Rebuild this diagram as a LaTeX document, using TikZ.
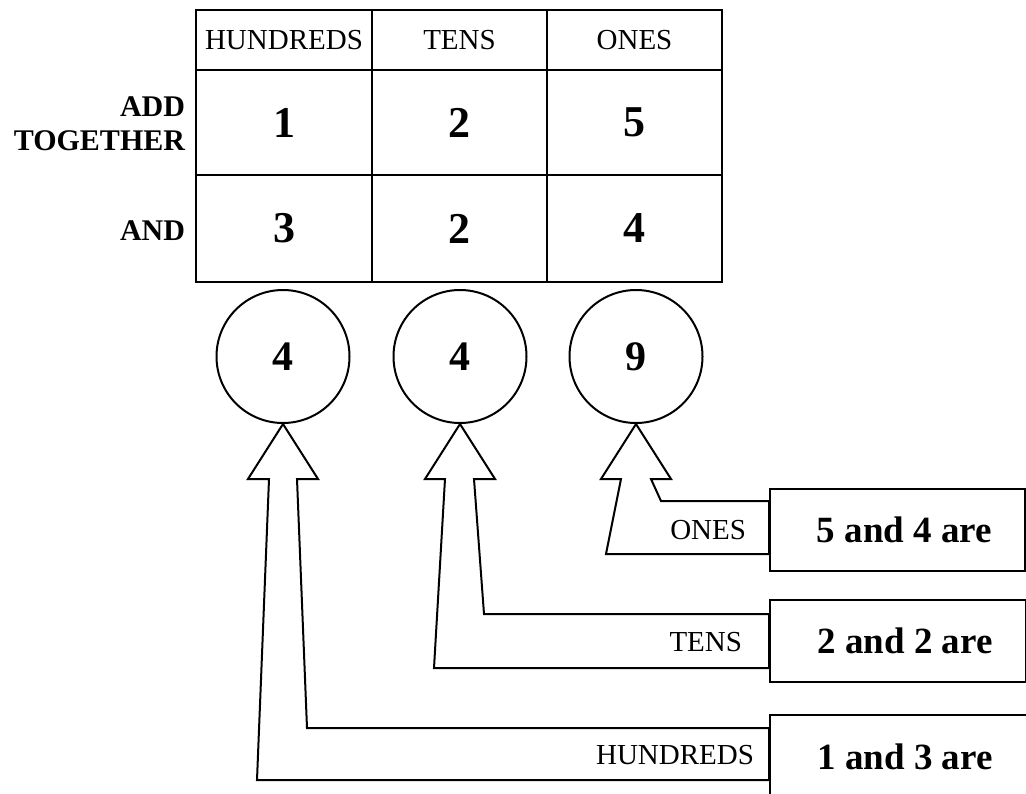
\documentclass[tikz,border=0pt]{standalone}
\usepackage{fontspec}
\setmainfont{Liberation Serif}
\usetikzlibrary{calc}
\begin{document}
\begin{tikzpicture}[x=1pt,y=-1pt,line width=2pt,
  cell/.style={draw,inner sep=0pt,minimum width=175pt},
  hdrcell/.style={cell,minimum height=60pt,font=\fontsize{29}{29}\selectfont},
  numcell/.style={cell,font=\bfseries\fontsize{44}{44}\selectfont},
  rowlabel/.style={anchor=east,align=right,inner sep=0pt,font=\bfseries\fontsize{30}{34}\selectfont},
  result/.style={draw,circle,minimum size=133pt,inner sep=0pt,font=\bfseries\fontsize{42}{42}\selectfont},
  sumbox/.style={draw,inner sep=0pt,font=\bfseries\fontsize{37}{37}\selectfont},
  arrowlabel/.style={anchor=east,inner sep=0pt,font=\fontsize{29}{29}\selectfont},
  blockarrow/.style={draw,line join=miter}]
\fill[white] (0,0) rectangle (1026,793);
\useasboundingbox (0,0) rectangle (1026,793);
\clip (0,0) rectangle (1026,793);
% table
\node[hdrcell,minimum width=176pt] (h1) at (284,40) {HUNDREDS};
\node[hdrcell] (h2) at (459.5,40) {TENS};
\node[hdrcell] (h3) at (634.5,40) {ONES};
\node[numcell,minimum width=176pt,minimum height=105pt] (a1) at (284,122.5) {1};
\node[numcell,minimum height=105pt] (a2) at (459.5,122.5) {2};
\node[numcell,minimum height=105pt] (a3) at (634.5,122.5) {5};
\node[numcell,minimum width=176pt,minimum height=107pt] (b1) at (284,228.5) {3};
\node[numcell,minimum height=107pt] (b2) at (459.5,228.5) {2};
\node[numcell,minimum height=107pt] (b3) at (634.5,228.5) {4};
\node[rowlabel] (addlbl) at ($(a1.west)+(-9,1)$) {ADD\\TOGETHER};
\node[rowlabel] (andlbl) at ($(b1.west)+(-9,2)$) {AND};
% results
\node[result] (c1) at (283,356.5) {4};
\node[result] (c2) at (460,356.5) {4};
\node[result] (c3) at (636,356.5) {9};
% sum boxes
\node[sumbox,minimum width=255pt,minimum height=82pt] (s1) at (897.5,530) {\hspace{14pt}5 and 4 are};
\node[sumbox,minimum width=256pt,minimum height=82pt] (s2) at (898,641) {\hspace{14pt}2 and 2 are};
\node[sumbox,minimum width=270pt,minimum height=90pt] (s3) at (905,760) {\raisebox{6pt}{1 and 3 are}};
% labels on arrows
\node[arrowlabel] (l1) at ($(s1.west)+(-22,0)$) {ONES};
\node[arrowlabel] (l2) at ($(s2.west)+(-26,1)$) {TENS};
\node[arrowlabel] (l3) at ($(s3.west)+(-14,-5)$) {HUNDREDS};
% arrow anchor points on boxes
\coordinate (s1b) at ($(s1.west)+(0,24)$);
\coordinate (s1t) at ($(s1.west)+(0,-29)$);
\coordinate (s2b) at ($(s2.west)+(0,27)$);
\coordinate (s2t) at ($(s2.west)+(0,-27)$);
\coordinate (s3b) at ($(s3.west)+(0,20)$);
\coordinate (s3t) at ($(s3.west)+(0,-32)$);
% arrow shaft reference x positions
\coordinate (x3l) at ($(c3.south)+(-30,0)$);
\coordinate (x3r) at ($(c3.south)+(25,0)$);
\coordinate (x2l) at ($(c2.south)+(-26,0)$);
\coordinate (x2r) at ($(c2.south)+(24,0)$);
\coordinate (x1l) at ($(c1.south)+(-26,0)$);
\coordinate (x1r) at ($(c1.south)+(24,0)$);
% block arrows
\draw[blockarrow] (c3.south) -- ($(c3.south)+(-35,55)$) -- ($(c3.south)+(-15,55)$)
  -- (x3l |- s1b) -- (s1b) -- (s1t)
  -- (x3r |- s1t) -- ($(c3.south)+(15,55)$) -- ($(c3.south)+(35,55)$) -- cycle;
\draw[blockarrow] (c2.south) -- ($(c2.south)+(-35,55)$) -- ($(c2.south)+(-15,55)$)
  -- (x2l |- s2b) -- (s2b) -- (s2t)
  -- (x2r |- s2t) -- ($(c2.south)+(14,55)$) -- ($(c2.south)+(35,55)$) -- cycle;
\draw[blockarrow] (c1.south) -- ($(c1.south)+(-35,55)$) -- ($(c1.south)+(-14,55)$)
  -- (x1l |- s3b) -- (s3b) -- (s3t)
  -- (x1r |- s3t) -- ($(c1.south)+(14,55)$) -- ($(c1.south)+(35,55)$) -- cycle;
\end{tikzpicture}
\end{document}
